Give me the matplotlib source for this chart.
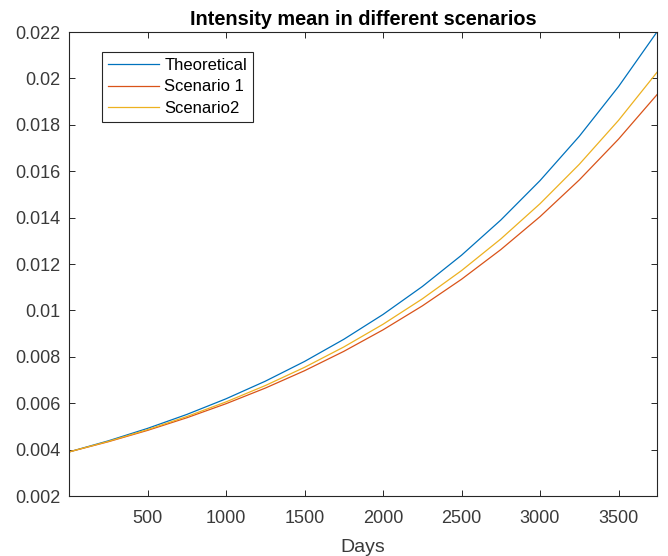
import matplotlib
matplotlib.use('Agg')
import matplotlib.pyplot as plt

# values
days = [0, 250, 500, 750, 1000, 1250, 1500, 1750, 2000, 2250, 2500, 2750, 3000, 3250, 3500, 3745]
theoretical = [0.00390, 0.004377, 0.004914, 0.005515, 0.006190, 0.006948, 0.007799, 0.008754,
               0.009825, 0.011028, 0.012379, 0.013894, 0.015595, 0.017505, 0.019648, 0.022002]
scenario1 = [0.00390, 0.004339, 0.004828, 0.005372, 0.005978, 0.006651, 0.007400, 0.008234,
             0.009162, 0.010193, 0.011342, 0.012620, 0.014041, 0.015623, 0.017383, 0.019299]
scenario2 = [0.00390, 0.004354, 0.004860, 0.005425, 0.006056, 0.006760, 0.007546, 0.008423,
             0.009403, 0.010496, 0.011716, 0.013079, 0.014599, 0.016297, 0.018192, 0.020262]
labels = ['Theoretical', 'Scenario 1', 'Scenario2']

xticks = [500, 1000, 1500, 2000, 2500, 3000, 3500]
yticks = [0.002, 0.004, 0.006, 0.008, 0.01, 0.012, 0.014, 0.016, 0.018, 0.02, 0.022]
ytick_labels = ['0.002', '0.004', '0.006', '0.008', '0.01', '0.012', '0.014', '0.016', '0.018', '0.02', '0.022']

plt.rcParams['font.family'] = ['Liberation Sans', 'DejaVu Sans']
axis_col = '#262626'
text_col = '#3a3a3a'

fig = plt.figure(figsize=(6.68, 5.56), dpi=100)
ax = fig.add_axes([0.1033, 0.1079, 0.8802, 0.8345])

ax.plot(days, theoretical, color='#0072BD', lw=0.9, label=labels[0])
ax.plot(days, scenario1, color='#D95319', lw=0.9, label=labels[1])
ax.plot(days, scenario2, color='#EDB120', lw=0.9, label=labels[2])

ax.set_xlim(0, 3745)
ax.set_ylim(0.002, 0.022)
ax.set_xticks(xticks)
ax.set_xticklabels([str(t) for t in xticks])
ax.set_yticks(yticks)
ax.set_yticklabels(ytick_labels)
ax.tick_params(direction='in', top=True, right=True, length=4.5, width=0.7,
               labelsize=13, colors=axis_col, labelcolor=text_col)
ax.tick_params(axis='x', pad=10)
ax.tick_params(axis='y', pad=6)
for s in ax.spines.values():
    s.set_color(axis_col)
    s.set_linewidth(0.8)

ax.set_xlabel('Days', fontsize=14, color=text_col, labelpad=9)
ax.set_title('Intensity mean in different scenarios', fontsize=14.3, fontweight='bold', pad=5)

leg = ax.legend(loc='upper left', bbox_to_anchor=(0.056, 0.957), borderaxespad=0,
                fontsize=12, handlelength=3.1, handletextpad=0.3, labelspacing=0.4,
                borderpad=0.35, fancybox=False, framealpha=1)
leg.get_frame().set_edgecolor(axis_col)
leg.get_frame().set_linewidth(0.8)

fig.savefig('out.png', dpi=100)
